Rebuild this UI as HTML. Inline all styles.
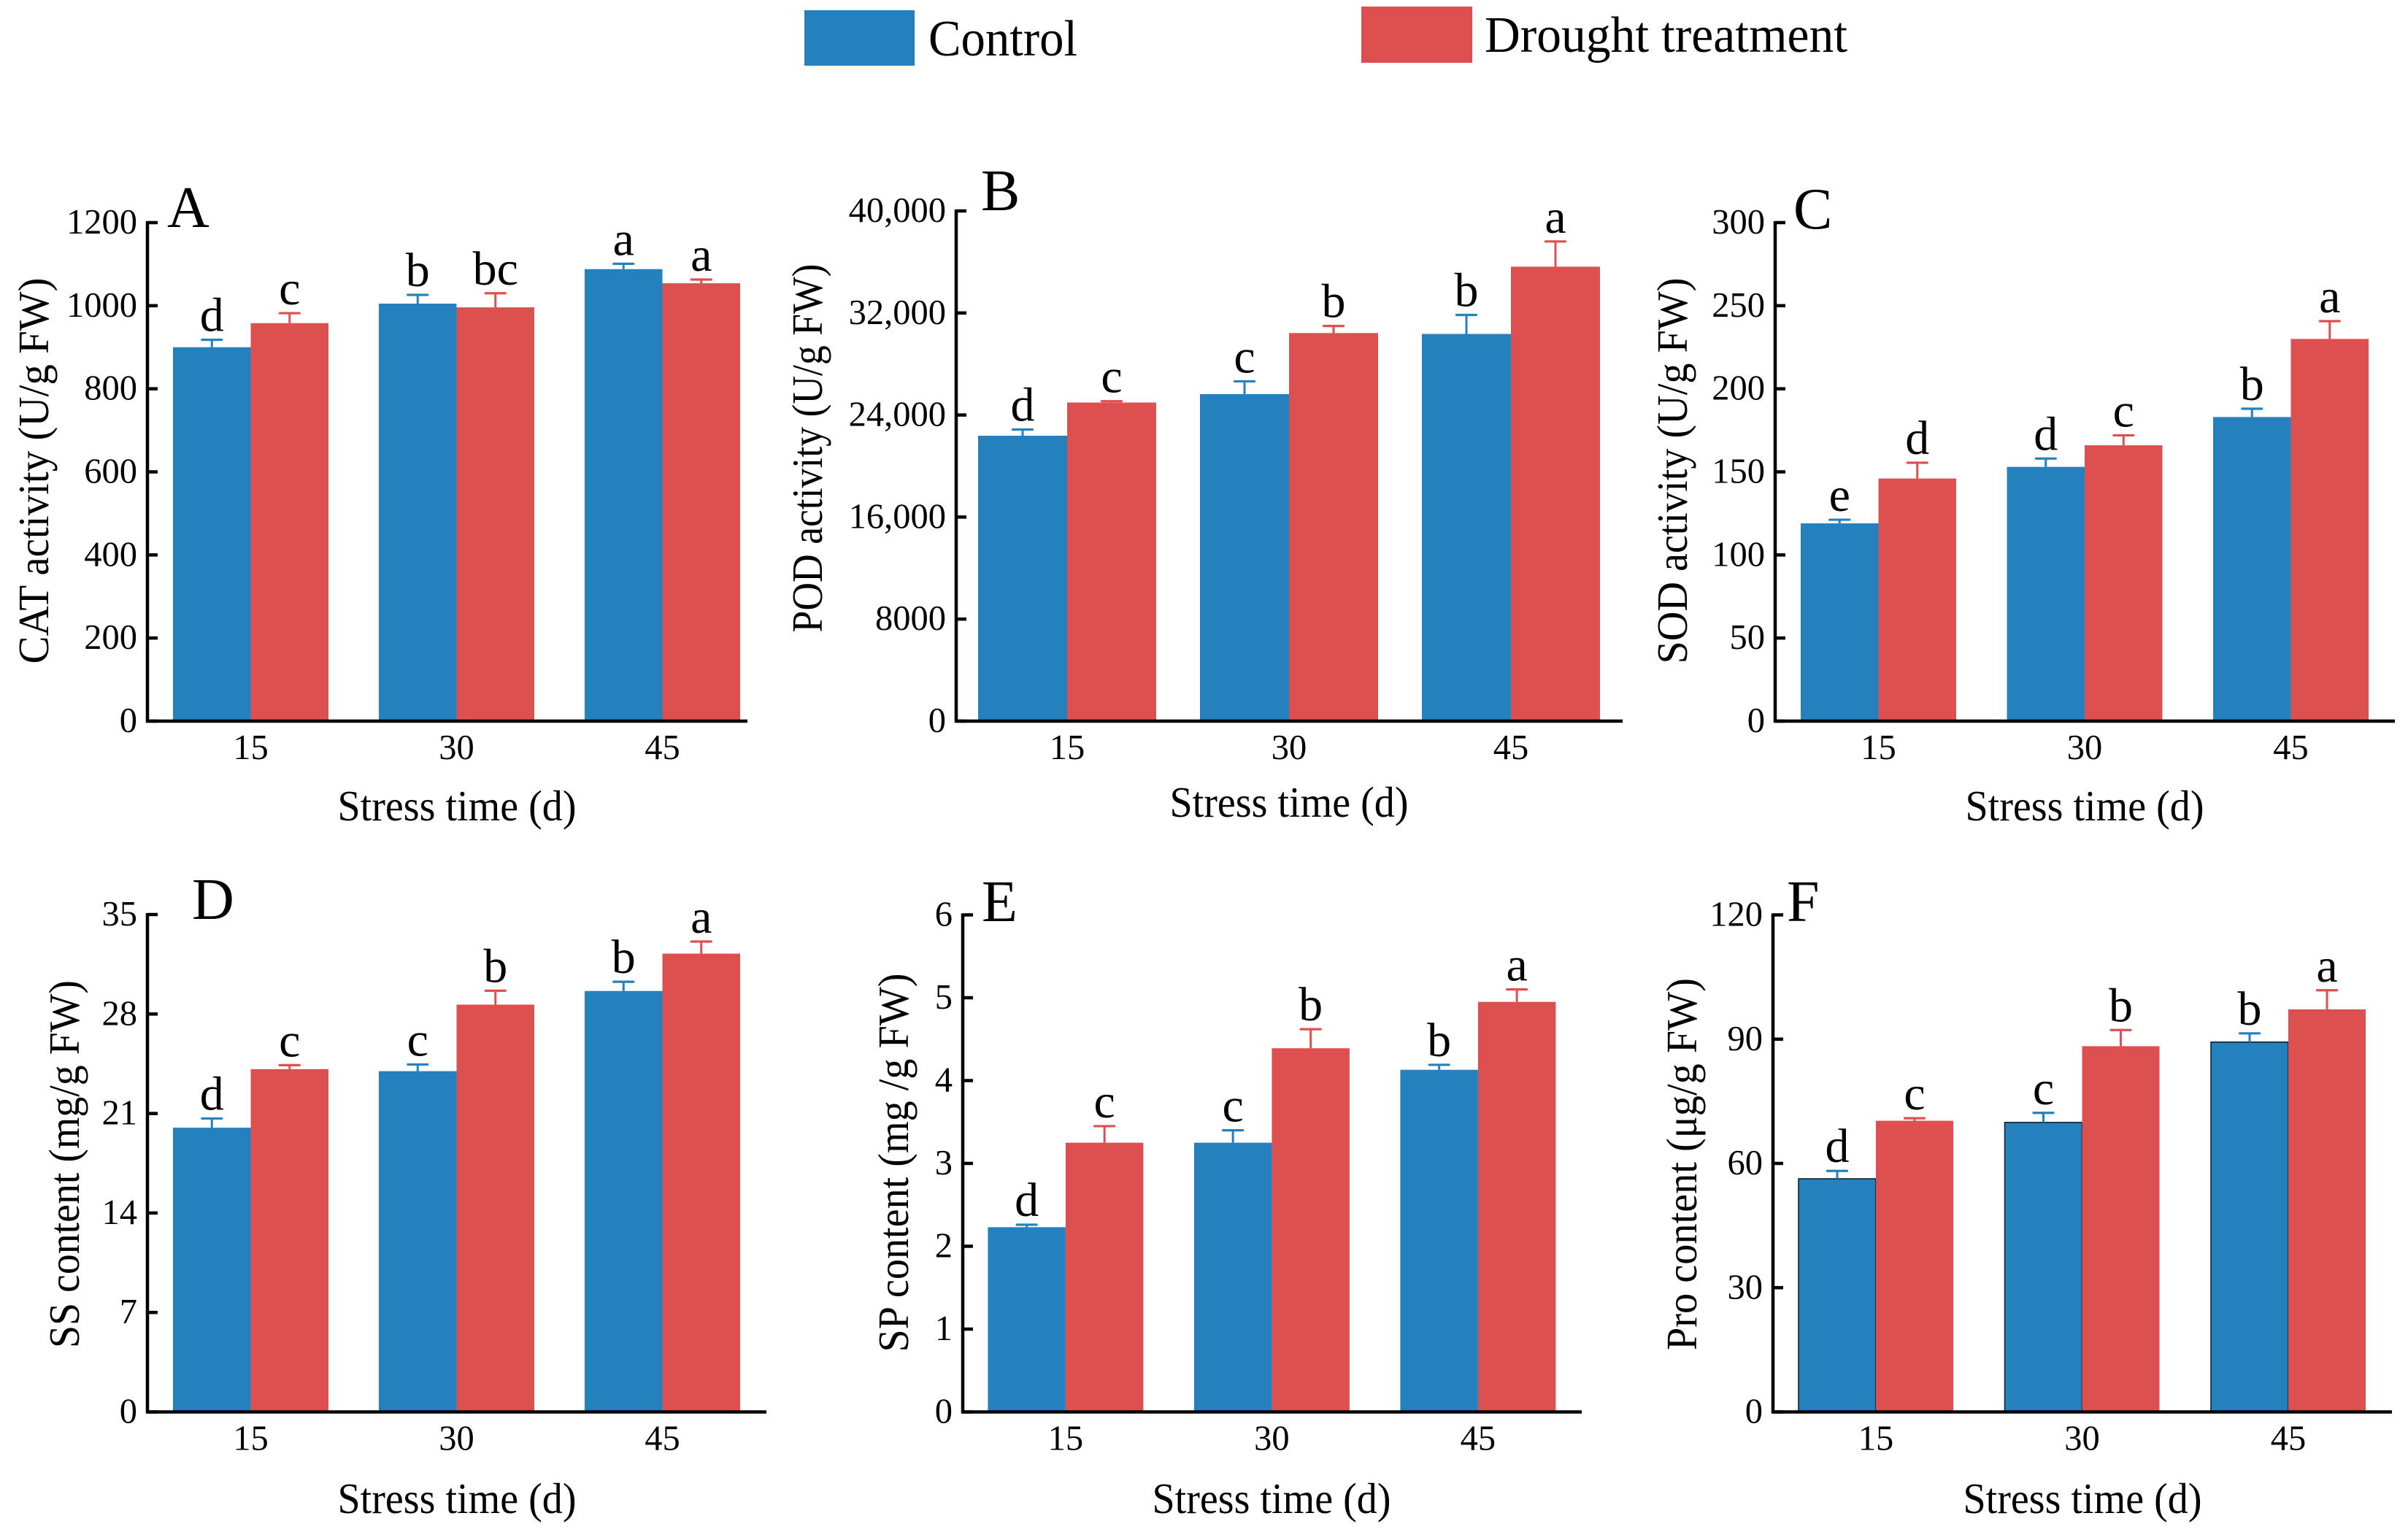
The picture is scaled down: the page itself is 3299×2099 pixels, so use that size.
<!DOCTYPE html>
<html lang="en">
<head>
<meta charset="utf-8">
<title>Stress response bar charts</title>
<style>
html,body{margin:0;padding:0;background:#fff;width:3299px;height:2099px;overflow:hidden}
svg{display:block}
text{font-family:"Liberation Serif","Times New Roman",serif;fill:#000}
.ylab{font-size:59px;text-anchor:middle}
.xlab{font-size:59px;text-anchor:middle}
.letter{font-size:80px}
.leg{font-size:70px}
</style>
</head>
<body>
<svg id="figure" xmlns="http://www.w3.org/2000/svg" width="3299" height="2099" viewBox="0 0 3299 2099">
  <rect x="0" y="0" width="3299" height="2099" fill="#fff"/>
  <g>
    <rect x="1102" y="14" width="151" height="76" fill="#2580BE"/>
    <text class="leg" x="1272" y="76" textLength="204" lengthAdjust="spacingAndGlyphs">Control</text>
    <rect x="1865" y="9" width="152" height="77" fill="#DE5050"/>
    <text class="leg" x="2034" y="71" textLength="497" lengthAdjust="spacingAndGlyphs">Drought treatment</text>
  </g>

  <g id="panel-a">
    <text class="letter" x="229" y="311">A</text>
    <text class="ylab" transform="translate(66 645) rotate(-90)" textLength="529" lengthAdjust="spacingAndGlyphs">CAT activity (U/g FW)</text>
    <text class="xlab" x="626" y="1124" textLength="327" lengthAdjust="spacingAndGlyphs">Stress time (d)</text>
  </g>
  <g id="panel-b">
    <text class="letter" x="1344" y="288">B</text>
    <text class="ylab" transform="translate(1126 614) rotate(-90)" textLength="505" lengthAdjust="spacingAndGlyphs">POD activity (U/g FW)</text>
    <text class="xlab" x="1766" y="1119" textLength="327" lengthAdjust="spacingAndGlyphs">Stress time (d)</text>
  </g>
  <g id="panel-c">
    <text class="letter" x="2457" y="313">C</text>
    <text class="ylab" transform="translate(2311 645) rotate(-90)" textLength="529" lengthAdjust="spacingAndGlyphs">SOD activity (U/g FW)</text>
    <text class="xlab" x="2856" y="1124" textLength="327" lengthAdjust="spacingAndGlyphs">Stress time (d)</text>
  </g>
  <g id="panel-d">
    <text class="letter" x="263" y="1259">D</text>
    <text class="ylab" transform="translate(108 1595) rotate(-90)" textLength="504" lengthAdjust="spacingAndGlyphs">SS content (mg/g FW)</text>
    <text class="xlab" x="626" y="2073" textLength="327" lengthAdjust="spacingAndGlyphs">Stress time (d)</text>
  </g>
  <g id="panel-e">
    <text class="letter" x="1345" y="1262">E</text>
    <text class="ylab" transform="translate(1244 1593) rotate(-90)" textLength="519" lengthAdjust="spacingAndGlyphs">SP content (mg /g FW)</text>
    <text class="xlab" x="1742" y="2073" textLength="327" lengthAdjust="spacingAndGlyphs">Stress time (d)</text>
  </g>
  <g id="panel-f">
    <text class="letter" x="2448" y="1262">F</text>
    <text class="ylab" transform="translate(2324 1595) rotate(-90)" textLength="510" lengthAdjust="spacingAndGlyphs">Pro content (μg/g FW)</text>
    <text class="xlab" x="2853" y="2073" textLength="327" lengthAdjust="spacingAndGlyphs">Stress time (d)</text>
  </g>
</svg>
<script>
var categories = ['15', '30', '45'];

var aTicks = [0, 200, 400, 600, 800, 1000, 1200];
var aTickLabels = ['0', '200', '400', '600', '800', '1000', '1200'];
var aControl = [900, 1005, 1088];
var aDrought = [958, 996, 1054];
var aControlErr = [18, 21, 13];
var aDroughtErr = [24, 34, 9];
var aControlSig = ['d', 'b', 'a'];
var aDroughtSig = ['c', 'bc', 'a'];

var bTicks = [0, 8000, 16000, 24000, 32000, 40000];
var bTickLabels = ['0', '8000', '16,000', '24,000', '32,000', '40,000'];
var bControl = [22376, 25637, 30356];
var bDrought = [24978, 30425, 35629];
var bControlErr = [486, 1006, 1491];
var bDroughtErr = [105, 555, 1977];
var bControlSig = ['d', 'c', 'b'];
var bDroughtSig = ['c', 'b', 'a'];

var cTicks = [0, 50, 100, 150, 200, 250, 300];
var cTickLabels = ['0', '50', '100', '150', '200', '250', '300'];
var cControl = [119, 153, 183];
var cDrought = [146, 166, 230];
var cControlErr = [2.2, 5, 5];
var cDroughtErr = [9.5, 6, 10.7];
var cControlSig = ['e', 'd', 'b'];
var cDroughtSig = ['d', 'c', 'a'];

var dTicks = [0, 7, 14, 21, 28, 35];
var dTickLabels = ['0', '7', '14', '21', '28', '35'];
var dControl = [20.0, 23.98, 29.62];
var dDrought = [24.12, 28.66, 32.25];
var dControlErr = [0.65, 0.47, 0.65];
var dDroughtErr = [0.28, 0.98, 0.85];
var dControlSig = ['d', 'c', 'b'];
var dDroughtSig = ['c', 'b', 'a'];

var eTicks = [0, 1, 2, 3, 4, 5, 6];
var eTickLabels = ['0', '1', '2', '3', '4', '5', '6'];
var eControl = [2.23, 3.25, 4.13];
var eDrought = [3.25, 4.39, 4.95];
var eControlErr = [0.03, 0.15, 0.06];
var eDroughtErr = [0.2, 0.23, 0.15];
var eControlSig = ['d', 'c', 'b'];
var eDroughtSig = ['c', 'b', 'a'];

var fTicks = [0, 30, 60, 90, 120];
var fTickLabels = ['0', '30', '60', '90', '120'];
var fControl = [56.3, 69.9, 89.3];
var fDrought = [70.3, 88.3, 97.2];
var fControlErr = [1.9, 2.3, 2.1];
var fDroughtErr = [0.6, 3.9, 4.6];
var fControlSig = ['d', 'c', 'b'];
var fDroughtSig = ['c', 'b', 'a'];

var SVG_NS = 'http://www.w3.org/2000/svg';
var BLUE = '#2580BE';
var RED = '#DE5050';

function shape(parent, tag, attrs) {
  var el = document.createElementNS(SVG_NS, tag);
  for (var k in attrs) { el.setAttribute(k, attrs[k]); }
  
  parent.appendChild(el);
  return el;
}

function drawSeries(g, id, name, values, errs, sigs, color, off, L, y, outline) {
  values.forEach(function (v, i) {
    var x = L.barStart + i * L.step + off * L.barW;
    var cx = x + L.barW / 2;
    var bar = shape(g, 'rect', {x: x, y: y(v), width: L.barW, height: L.bottom - y(v), fill: color});
    
    if (outline) {
      bar.setAttribute('stroke', '#0a1a26');
      bar.setAttribute('stroke-width', '1.5');
    }
    var topY = y(v + errs[i]);
    var stem = shape(g, 'line', {x1: cx, x2: cx, y1: y(v), y2: topY, stroke: color, 'stroke-width': 3});
    
    var cap = shape(g, 'line', {x1: cx - 13.5, x2: cx + 13.5, y1: topY, y2: topY, stroke: color, 'stroke-width': 3.2, 'stroke-linecap': 'round'});
    
    var t = shape(g, 'text', {x: cx, y: topY - 12, 'text-anchor': 'middle', 'font-size': 66});
    
    t.textContent = sigs[i];
  });
}

function drawPanel(id, ticks, tickLabels, control, drought, controlErr, droughtErr, controlSig, droughtSig, L, outline) {
  var g = document.getElementById('panel-' + id);
  var maxV = ticks[ticks.length - 1];
  function y(v) { return L.bottom - (v / maxV) * (L.bottom - L.top); }

  drawSeries(g, id, 'control', control, controlErr, controlSig, BLUE, 0, L, y, outline);
  drawSeries(g, id, 'drought', drought, droughtErr, droughtSig, RED, 1, L, y, false);

  var yAxis = shape(g, 'line', {x1: L.x0, x2: L.x0, y1: L.top - 2, y2: L.bottom + 2, stroke: '#000', 'stroke-width': 4.5});
  
  var xAxis = shape(g, 'line', {x1: L.x0 - 2, x2: L.xEnd, y1: L.bottom, y2: L.bottom, stroke: '#000', 'stroke-width': 4.5});
  

  ticks.forEach(function (v, i) {
    var tick = shape(g, 'line', {x1: L.x0, x2: L.x0 + 14, y1: y(v), y2: y(v), stroke: '#000', 'stroke-width': 4.5});
    
    var lab = shape(g, 'text', {x: L.x0 - 14, y: y(v) + 15, 'text-anchor': 'end', 'font-size': 48.5});
    
    lab.textContent = tickLabels[i];
  });

  categories.forEach(function (c, i) {
    var lab = shape(g, 'text', {x: L.barStart + i * L.step + L.barW, y: L.bottom + 52, 'text-anchor': 'middle', 'font-size': 48.5});
    
    lab.textContent = c;
  });
}

drawPanel('a', aTicks, aTickLabels, aControl, aDrought, aControlErr, aDroughtErr, aControlSig, aDroughtSig,
  {x0: 202, xEnd: 1024, top: 305, bottom: 988, barStart: 237, barW: 106.5, step: 282}, false);
drawPanel('b', bTicks, bTickLabels, bControl, bDrought, bControlErr, bDroughtErr, bControlSig, bDroughtSig,
  {x0: 1310, xEnd: 2223, top: 289, bottom: 988, barStart: 1340, barW: 122, step: 304}, false);
drawPanel('c', cTicks, cTickLabels, cControl, cDrought, cControlErr, cDroughtErr, cControlSig, cDroughtSig,
  {x0: 2432, xEnd: 3281, top: 305, bottom: 988, barStart: 2467, barW: 106.5, step: 282.5}, false);
drawPanel('d', dTicks, dTickLabels, dControl, dDrought, dControlErr, dDroughtErr, dControlSig, dDroughtSig,
  {x0: 202, xEnd: 1050, top: 1253, bottom: 1934.5, barStart: 237, barW: 106.5, step: 282}, false);
drawPanel('e', eTicks, eTickLabels, eControl, eDrought, eControlErr, eDroughtErr, eControlSig, eDroughtSig,
  {x0: 1319, xEnd: 2167, top: 1253.5, bottom: 1934.5, barStart: 1353.4, barW: 106.5, step: 282.5}, false);
drawPanel('f', fTicks, fTickLabels, fControl, fDrought, fControlErr, fDroughtErr, fControlSig, fDroughtSig,
  {x0: 2429, xEnd: 3277, top: 1253.5, bottom: 1934.5, barStart: 2464, barW: 106, step: 282.5}, true);
</script>
</body>
</html>
